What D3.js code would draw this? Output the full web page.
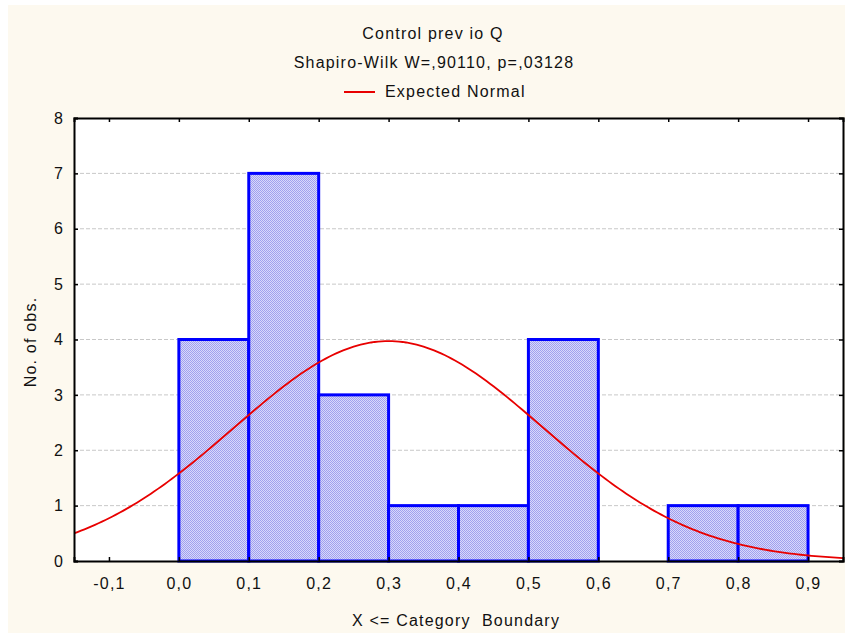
<!DOCTYPE html>
<html>
<head>
<meta charset="utf-8">
<script src="https://cdn.jsdelivr.net/npm/d3@7"></script>
<style>
  body { margin: 0; background: #fff; }
  text { font-family: "Liberation Sans", Arial, sans-serif; fill: #111; letter-spacing: 1.2px; }
</style>
</head>
<body>
<svg id="chart"></svg>
<script>
const width = 847, height = 635;

// histogram data (bin lower edge, count)
const binStarts = [0.0, 0.1, 0.2, 0.3, 0.4, 0.5, 0.6, 0.7, 0.8];
const binCounts = [4, 7, 3, 1, 1, 4, 0, 1, 1];
const binWidth = 0.1;
const xTicks = [-0.1, 0.0, 0.1, 0.2, 0.3, 0.4, 0.5, 0.6, 0.7, 0.8, 0.9];
const yTicks = [0, 1, 2, 3, 4, 5, 6, 7, 8];
// expected normal parameters
const normalMean = 0.30;
const normalSd = 0.221;
const nObs = 22;

const margin = {left: 74, right: 4, top: 118, bottom: 74};
const fontSize = 16;

const svg = d3.select("#chart")
    .attr("width", width)
    .attr("height", height);

svg.append("rect")
    .attr("x", 8).attr("y", 5)
    .attr("width", 837).attr("height", 628)
    .attr("fill", "#fdf9ef");

const x = d3.scaleLinear().domain([-0.15, 0.95]).range([margin.left, width - margin.right]);
const y = d3.scaleLinear().domain([0, 8]).range([height - margin.bottom, margin.top]);

const locale = d3.formatLocale({decimal: ",", thousands: ".", grouping: [3], currency: ["", ""], minus: "-"});
const fmt = locale.format(".1f");

// plot background
svg.append("rect")
    .attr("x", x.range()[0]).attr("y", y.range()[1])
    .attr("width", x.range()[1] - x.range()[0])
    .attr("height", y.range()[0] - y.range()[1])
    .attr("fill", "#fff");

// dotted fill pattern for bars
const defs = svg.append("defs");
const pat = defs.append("pattern")
    .attr("id", "dots")
    .attr("width", 2).attr("height", 2)
    .attr("patternUnits", "userSpaceOnUse");
pat.append("rect").attr("width", 2).attr("height", 2).attr("fill", "#d8d8fb");
pat.append("rect").attr("width", 1).attr("height", 1).attr("fill", "#a0a0ee");
pat.append("rect").attr("x", 1).attr("y", 1).attr("width", 1).attr("height", 1).attr("fill", "#a0a0ee");

defs.append("clipPath").attr("id", "clip")
  .append("rect")
    .attr("x", x.range()[0]).attr("y", y.range()[1])
    .attr("width", x.range()[1] - x.range()[0])
    .attr("height", y.range()[0] - y.range()[1]);

// gridlines
svg.append("g")
  .selectAll("line")
  .data(yTicks.filter(d => d > 0 && d < 8))
  .join("line")
    .attr("x1", x.range()[0]).attr("x2", x.range()[1])
    .attr("y1", d => y(d)).attr("y2", d => y(d))
    .attr("stroke", "#c8c8c8")
    .attr("stroke-dasharray", "4,2");

// bars
const bins = binStarts.map((b, i) => ({x0: b, x1: b + binWidth, n: binCounts[i]}));
svg.append("g")
  .selectAll("rect")
  .data(bins.filter(d => d.n > 0))
  .join("rect")
    .attr("x", d => x(d.x0))
    .attr("y", d => y(d.n))
    .attr("width", d => x(d.x1) - x(d.x0))
    .attr("height", d => y(0) - y(d.n))
    .attr("fill", "url(#dots)")
    .attr("stroke", "#0000ff")
    .attr("stroke-width", 3);

// expected normal curve
const pdf = v => nObs * binWidth / (normalSd * Math.sqrt(2 * Math.PI)) *
    Math.exp(-0.5 * Math.pow((v - normalMean) / normalSd, 2));
const curveX = d3.range(-0.15, 0.9501, 0.005);
svg.append("path")
    .datum(curveX)
    .attr("clip-path", "url(#clip)")
    .attr("fill", "none")
    .attr("stroke", "#e80000")
    .attr("stroke-width", 1.8)
    .attr("d", d3.line().x(d => x(d)).y(d => y(pdf(d))));

// axes
const tickLen = 4;
const xBottom = svg.append("g")
    .attr("transform", `translate(0,${y(0)})`)
    .call(d3.axisBottom(x).tickValues(xTicks).tickSize(-tickLen).tickPadding(17).tickFormat(fmt));
const xTop = svg.append("g")
    .attr("transform", `translate(0,${y(8)})`)
    .call(d3.axisTop(x).tickValues(xTicks).tickSize(-tickLen).tickFormat(""));
const yLeft = svg.append("g")
    .attr("transform", `translate(${x.range()[0]},0)`)
    .call(d3.axisLeft(y).tickValues(yTicks).tickSize(-tickLen).tickPadding(10).tickFormat(d3.format("d")));
const yRight = svg.append("g")
    .attr("transform", `translate(${x.range()[1]},0)`)
    .call(d3.axisRight(y).tickValues(yTicks).tickSize(-tickLen).tickFormat(""));

[xBottom, xTop, yLeft, yRight].forEach(g => {
    g.select(".domain").attr("stroke", "#000").attr("stroke-width", 2);
    g.selectAll(".tick line").attr("stroke", "#000").attr("stroke-width", 1.5);
    g.selectAll(".tick text").attr("font-size", fontSize).attr("fill", "#111")
        .style("font-family", "Liberation Sans, Arial, sans-serif");
});

// titles
svg.append("text")
    .attr("x", 433).attr("y", 39)
    .attr("text-anchor", "middle").attr("font-size", fontSize)
    .text("Control prev io Q");
svg.append("text")
    .attr("x", 434).attr("y", 68)
    .attr("text-anchor", "middle").attr("font-size", fontSize)
    .text("Shapiro-Wilk W=,90110, p=,03128");

// legend
svg.append("line")
    .attr("x1", 344).attr("x2", 375)
    .attr("y1", 92).attr("y2", 92)
    .attr("stroke", "#e80000").attr("stroke-width", 2);
svg.append("text")
    .attr("x", 385).attr("y", 97)
    .attr("font-size", fontSize)
    .text("Expected Normal");

// axis labels
svg.append("text")
    .attr("x", 456).attr("y", 626)
    .attr("text-anchor", "middle").attr("font-size", fontSize)
    .attr("xml:space", "preserve")
    .text("X <= Category  Boundary");
svg.append("text")
    .attr("transform", `translate(36,342) rotate(-90)`)
    .attr("text-anchor", "middle").attr("font-size", fontSize)
    .text("No. of obs.");
</script>
</body>
</html>
